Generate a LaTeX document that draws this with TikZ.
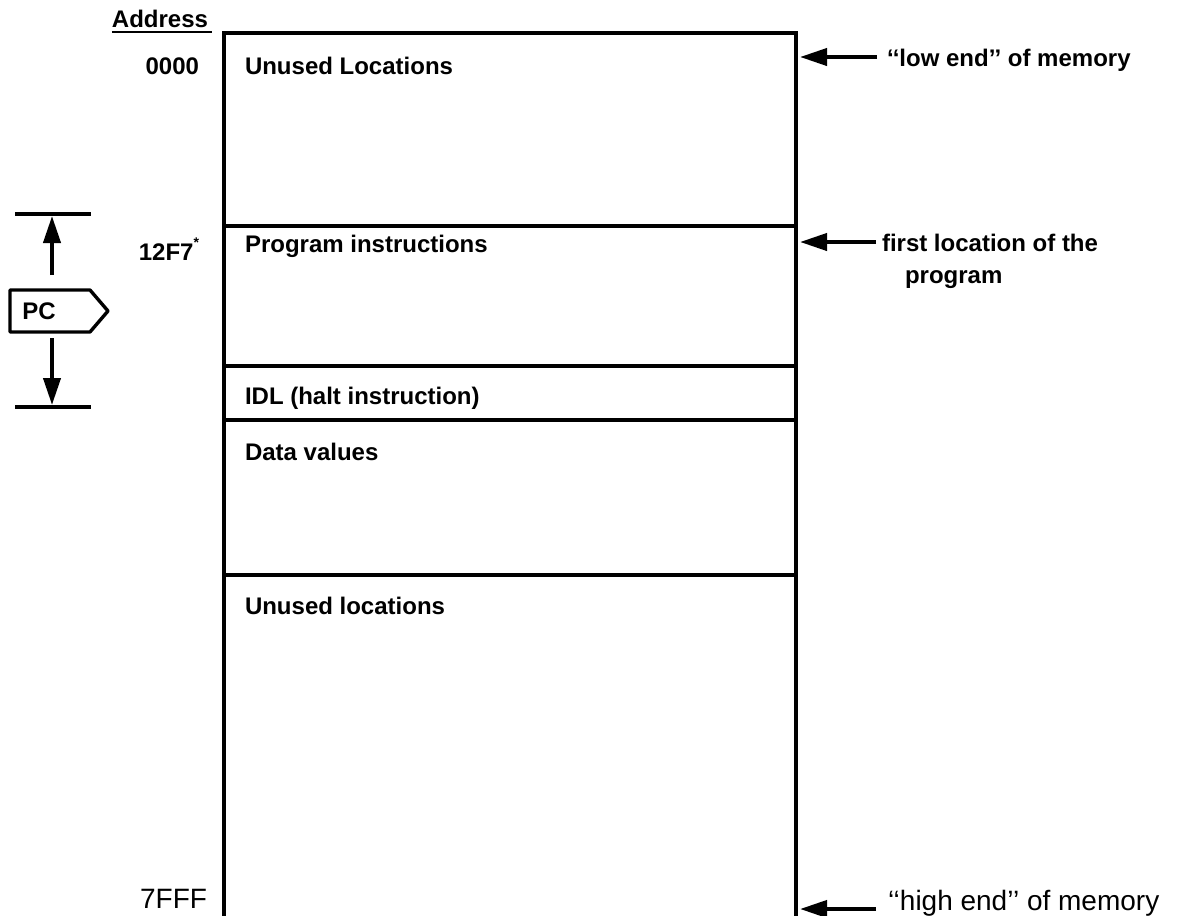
\documentclass[tikz,border=0pt]{standalone}
\usepackage{fontspec}
\setmainfont{Liberation Sans}
\usetikzlibrary{arrows.meta}
\begin{document}
\begin{tikzpicture}[x=1pt,y=-1pt,
  every node/.style={inner sep=0pt,outer sep=0pt},
  txt/.style={font=\fontsize{24}{28}\selectfont\bfseries,anchor=west},
  addr/.style={font=\fontsize{24}{28}\selectfont\bfseries,anchor=east},
  lowtxt/.style={font=\fontsize{28}{32}\selectfont},
  wall/.style={line width=3.4pt,line cap=rect},
  arr/.style={line width=4pt,-{Triangle[length=27pt,width=17pt]}},
  bar/.style={line width=3.6pt}]
\useasboundingbox (0,0) rectangle (1184,916);
% memory column
\coordinate (tl) at (224,33);
\coordinate (tr) at (796,33);
\coordinate (bl) at (224,925);
\coordinate (br) at (796,925);
\draw[wall,line join=miter] (bl) -- (tl) -- (tr) -- (br);
\foreach \y/\n in {226/d1,366/d2,420/d3,575/d4}{
  \coordinate (\n l) at (224,\y);
  \coordinate (\n r) at (796,\y);
  \draw[wall] (\n l) -- (\n r);
}
% labels in the column
\node[txt] (u1) at (245,66) {Unused Locations};
\node[txt] (pi) at (245,246) {Program instructions};
\node[txt] (idl) at (245,398) {IDL (halt instruction)};
\node[txt] (dv) at (245,452) {Data values};
\node[txt] (u2) at (245,606) {Unused locations};
% addresses
\node[font=\fontsize{24}{28}\selectfont\bfseries] (ad) at (160,19) {Address};
\draw[line width=2.4pt] (ad.south west)++(0,4) -- ++(100,0);
\node[addr] (a0) at (199,66) {0000};
\node[addr] (a1) at (199,249) {12F7\raisebox{0.55em}{\fontsize{14}{14}\selectfont*}};
\node[addr,lowtxt] (a2) at (207,899) {7FFF};
% right-side notes
\node[txt] (n1) at (887,60) {‘‘low end’’ of memory};
\coordinate (e1) at (800,57);
\draw[arr] (877,57) -- (e1);
\node[txt] (n2) at (882,243) {first location of the};
\node[txt] (n2b) at (905,280) {program};
\coordinate (e2) at (800,242);
\draw[arr] (876,242) -- (e2);
\node[anchor=west,lowtxt] (n3) at (888,903) {‘‘high end’’ of memory};
\coordinate (e3) at (800,909);
\draw[arr] (876,909) -- (e3);
% PC indicator
\coordinate (t1) at (15,214);
\coordinate (t2) at (91,214);
\coordinate (b1) at (15,407);
\coordinate (b2) at (91,407);
\draw[bar] (t1) -- (t2);
\draw[bar] (b1) -- (b2);
\node[font=\fontsize{24}{26}\selectfont\bfseries] (pc) at (39,311) {PC};
\draw[line width=3.4pt,line join=round] (10,290) -- (90,290) -- (108,311) -- (90,332) -- (10,332) -- cycle;
\coordinate (pu) at (52,275);
\coordinate (pd) at (52,338);
\draw[arr] (pu) -- (52,216);
\draw[arr] (pd) -- (52,405);
\end{tikzpicture}
\end{document}
